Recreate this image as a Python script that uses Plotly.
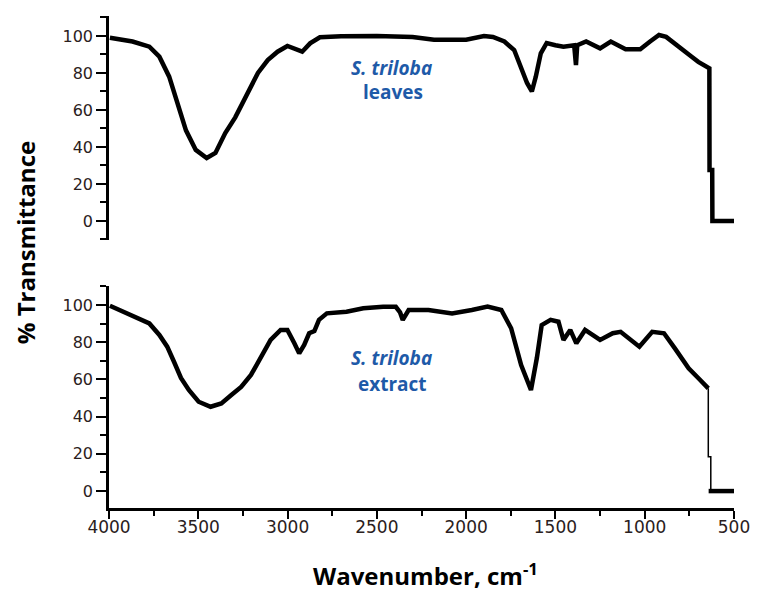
import plotly.graph_objects as go

# Wavenumber (cm^-1) and % transmittance
leaves_wn = [3995, 3868, 3774, 3718, 3663, 3619, 3569, 3514, 3453, 3404, 3349, 3293, 3233,
             3166, 3111, 3056, 3001, 2946, 2918, 2874, 2819, 2700, 2500, 2300, 2180, 2000,
             1960, 1900, 1850, 1800, 1786, 1731, 1687, 1659, 1632, 1610, 1582, 1549, 1500,
             1455, 1395, 1385, 1378, 1328, 1250, 1190, 1107, 1025, 970, 920, 880, 831, 780,
             737, 700, 666, 638, 637, 622, 621, 500]
leaves_t = [99.0, 97.0, 94.2, 88.8, 78.0, 63.8, 49.0, 38.4, 34.0, 36.8, 47.5, 56.0, 67.0,
            80.0, 87.0, 91.5, 94.6, 92.8, 91.5, 96.0, 99.3, 99.8, 100.0, 99.5, 98.0, 98.0,
            99.0, 100.0, 99.5, 97.8, 97.0, 92.4, 81.6, 74.6, 70.0, 78.0, 90.6, 96.2, 95.0,
            94.2, 95.0, 84.3, 95.0, 97.0, 93.3, 97.0, 92.8, 92.8, 97.0, 100.5, 99.5, 96.0, 92.5,
            88.8, 86.0, 84.3, 82.5, 27.5, 27.5, 0.0, 0.0]

extract_wn = [3995, 3902, 3829, 3774, 3718, 3674, 3636, 3597, 3553, 3498, 3431, 3371, 3315,
              3260, 3205, 3150, 3095, 3039, 3001, 2962, 2935, 2907, 2879, 2850, 2824, 2780,
              2670, 2576, 2465, 2394, 2370, 2355, 2335, 2322, 2211, 2079, 1968, 1880, 1803,
              1748, 1692, 1637, 1604, 1577, 1527, 1483, 1455, 1417, 1383, 1334, 1250, 1179,
              1135, 1030, 958, 892, 831, 754, 699, 644]
extract_t = [99.6, 95.5, 92.0, 90.1, 83.9, 77.6, 69.5, 60.8, 54.3, 48.0, 45.3, 47.1, 51.6,
             56.0, 62.4, 71.3, 81.2, 86.6, 86.6, 79.4, 74.0, 78.5, 84.8, 86.0, 92.0, 95.5,
             96.4, 98.2, 99.1, 99.0, 96.0, 92.0, 95.0, 97.3, 97.3, 95.5, 97.3, 99.1, 97.3,
             87.5, 67.7, 54.3, 71.5, 89.2, 92.0, 91.0, 81.2, 86.6, 79.4, 86.6, 81.2, 84.8,
             85.6, 77.6, 85.6, 84.8, 76.7, 66.0, 60.6, 55.2]
# thin drop at the low-wavenumber cut-off, then the flat baseline
extract_drop_wn = [644, 644, 630, 630]
extract_drop_t = [55.2, 18.4, 18.4, 0.5]
extract_base_wn = [642, 500]
extract_base_t = [0.0, 0.0]

y_ticks = [0, 20, 40, 60, 80, 100]
x_ticks = [4000, 3500, 3000, 2500, 2000, 1500, 1000, 500]

fig = go.Figure()
line = dict(color="black", width=4.5)
fig.add_trace(go.Scatter(x=leaves_wn, y=leaves_t, mode="lines", line=line,
                         xaxis="x2", yaxis="y", showlegend=False, hoverinfo="skip"))
fig.add_trace(go.Scatter(x=extract_wn, y=extract_t, mode="lines", line=line,
                         xaxis="x", yaxis="y2", showlegend=False, hoverinfo="skip"))
fig.add_trace(go.Scatter(x=extract_drop_wn, y=extract_drop_t, mode="lines",
                         line=dict(color="black", width=1.5),
                         xaxis="x", yaxis="y2", showlegend=False, hoverinfo="skip"))
fig.add_trace(go.Scatter(x=extract_base_wn, y=extract_base_t, mode="lines", line=line,
                         xaxis="x", yaxis="y2", showlegend=False, hoverinfo="skip"))

ytickfont = dict(family="DejaVu Sans", size=16, color="#2a2020")
xtickfont = dict(family="DejaVu Sans", size=17, color="#2a2020")
yax = dict(showline=True, linecolor="black", linewidth=2.5, showgrid=False, zeroline=False,
           ticks="outside", tickvals=y_ticks, ticklen=10, tickwidth=2, tickcolor="black",
           tickfont=ytickfont,
           minor=dict(ticks="outside", tick0=0, dtick=10, ticklen=6, tickwidth=1.5,
                      tickcolor="black", showgrid=False))

fig.update_layout(
    width=762, height=592,
    margin=dict(l=109, r=19, t=16, b=84),
    paper_bgcolor="white", plot_bgcolor="white",
    xaxis=dict(domain=[0, 1], anchor="y2", range=[4000, 500], showline=True,
               linecolor="black", linewidth=2.5, showgrid=False, zeroline=False,
               ticks="outside", tickvals=x_ticks, ticklen=8, tickwidth=2, tickcolor="black",
               tickfont=xtickfont, ticklabelstandoff=-6,
               minor=dict(ticks="outside", tick0=0, dtick=250, ticklen=5, tickwidth=1.5,
                          tickcolor="black", showgrid=False)),
    xaxis2=dict(domain=[0, 1], anchor="y", range=[4000, 500], visible=False),
    yaxis=dict(domain=[0.5447, 1.0], range=[-10.3, 110.8], anchor="x2", **yax),
    yaxis2=dict(domain=[0.0, 0.4512], range=[-9.1, 110.2], anchor="x", **yax),
)

blue = "#1e5aa8"
afont = dict(family="Open Sans", size=19, color=blue)


def label(text, px, py, font, angle=0):
    fig.add_annotation(text=text, x=(px - 109) / 634, y=(508 - py) / 492,
                       xref="paper", yref="paper", xanchor="center", yanchor="middle",
                       showarrow=False, textangle=angle, font=font)


label("<b><i>S. triloba</i></b>", 396, 68, afont)
label("<b>leaves</b>", 397, 92, afont)
label("<b><i>S. triloba</i></b>", 396, 358, afont)
label("<b>extract</b>", 397, 384, afont)

tfont = dict(family="Open Sans", size=24, color="black")
label("<b>% Transmittance</b>", 24, 243, tfont, angle=-90)
label("<b>Wavenumber, cm<sup>-1</sup></b>", 430, 574, tfont)

# remove the browser's default 8px body margin so the figure fills the window exactly
fig.write_html("out.html", config={"displayModeBar": False},
               post_script="document.body.style.margin='0';")
